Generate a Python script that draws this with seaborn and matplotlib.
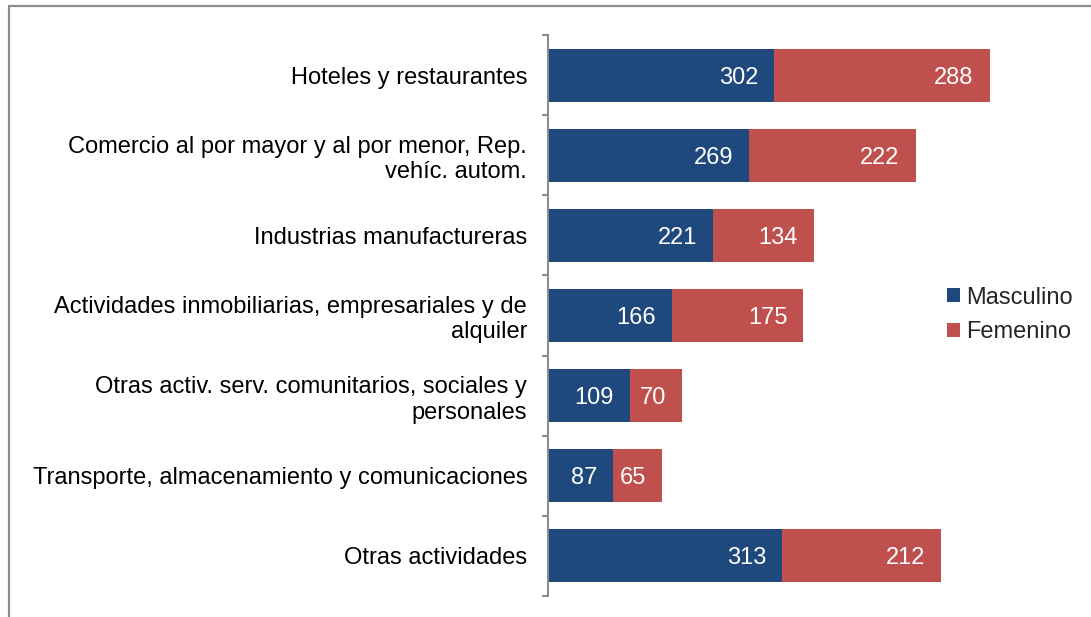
import matplotlib
matplotlib.use("Agg")
import matplotlib.pyplot as plt
import seaborn as sns
import pandas as pd
from matplotlib.lines import Line2D
from matplotlib.patches import Patch
from matplotlib.ticker import FixedLocator

# Ocupados por rama de actividad y sexo
categorias = [
    "Hoteles y restaurantes",
    "Comercio al por mayor y al por menor, Rep.\nvehíc. autom.",
    "Industrias manufactureras",
    "Actividades inmobiliarias, empresariales y de\nalquiler",
    "Otras activ. serv. comunitarios, sociales y\npersonales",
    "Transporte, almacenamiento y comunicaciones",
    "Otras actividades",
]
masculino = [302, 269, 221, 166, 109, 87, 313]
femenino = [288, 222, 134, 175, 70, 65, 212]
series = ["Masculino", "Femenino"]

AZUL = "#1F497D"
ROJO = "#C0504D"
GRIS = "#8C8C8C"
FS = 17

sns.set_theme(style="white")
plt.rcParams["font.family"] = ["Liberation Sans", "DejaVu Sans"]

df = pd.DataFrame({"actividad": categorias, "Masculino": masculino, "Femenino": femenino})
df["total"] = df["Masculino"] + df["Femenino"]

W, H = 1091, 617
fig = plt.figure(figsize=(W / 100, H / 100), dpi=100)
ax = fig.add_axes([548 / W, 1 - 596 / H, 524 / W, 561 / H])
ax.patch.set_alpha(0)

# Barras apiladas: total en rojo y la parte masculina en azul encima
sns.barplot(data=df, y="actividad", x="total", color=ROJO, width=0.66,
            saturation=1, errorbar=None, linewidth=0, orient="h", ax=ax)
sns.barplot(data=df, y="actividad", x="Masculino", color=AZUL, width=0.66,
            saturation=1, errorbar=None, linewidth=0, orient="h", ax=ax)

# Etiquetas de valor dentro del extremo de cada segmento
for i, (m, f) in enumerate(zip(masculino, femenino)):
    ax.annotate(str(m), xy=(m, i), xytext=(-16, 0), textcoords="offset pixels",
                ha="right", va="center_baseline", color="white", fontsize=FS)
    ax.annotate(str(f), xy=(m + f, i), xytext=(-16, 0), textcoords="offset pixels",
                ha="right", va="center_baseline", color="white", fontsize=FS)

ax.set_xlim(0, 700)
ax.set_ylim(len(categorias) - 0.5, -0.5)
ax.set_xlabel("")
ax.set_ylabel("")
ax.set_xticks([])
for s in ["top", "right", "bottom"]:
    ax.spines[s].set_visible(False)
ax.spines["left"].set_color(GRIS)
ax.spines["left"].set_linewidth(1.5)

ax.tick_params(axis="y", which="major", length=0, pad=15, labelsize=FS, labelcolor="black")
ax.yaxis.set_minor_locator(FixedLocator([k - 0.5 for k in range(len(categorias) + 1)]))
ax.tick_params(axis="y", which="minor", length=4.5, width=1.5, color=GRIS, left=True)
for lbl in ax.get_yticklabels():
    lbl.set_multialignment("right")

# Leyenda
handles = [Patch(facecolor=AZUL, edgecolor="none"), Patch(facecolor=ROJO, edgecolor="none")]
fig.legend(handles, series, loc="center left", bbox_to_anchor=(947 / W, 1 - 315 / H),
           frameon=False, fontsize=FS, handlelength=0.55, handleheight=0.55,
           handletextpad=0.25, labelspacing=0.55, borderpad=0, borderaxespad=0)

# Marco del gráfico (borde superior e izquierdo)
fig.add_artist(Line2D([8.5 / W, 8.5 / W], [0, 1 - 5.5 / H], color=GRIS, lw=1.6,
                      transform=fig.transFigure))
fig.add_artist(Line2D([8.5 / W, 1], [1 - 5.5 / H, 1 - 5.5 / H], color=GRIS, lw=1.6,
                      transform=fig.transFigure))

fig.savefig("out.png", dpi=100)
